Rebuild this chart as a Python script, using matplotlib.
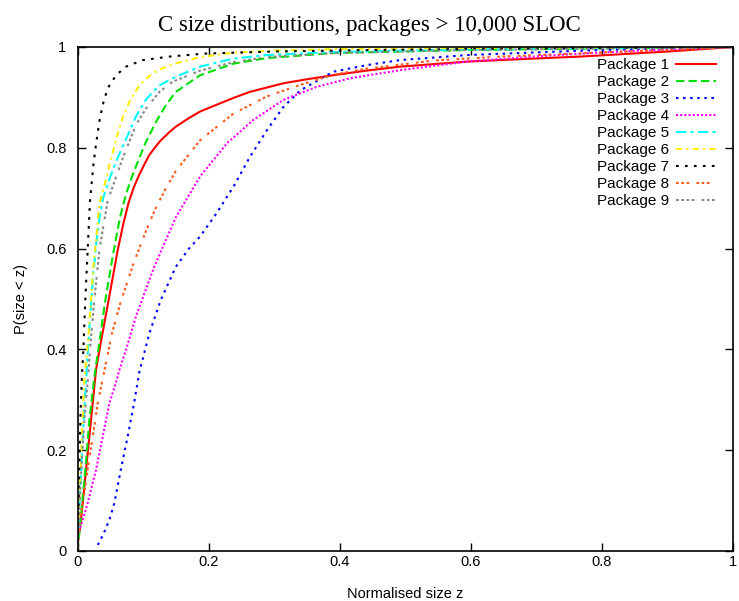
import matplotlib
matplotlib.use("Agg")
import matplotlib.pyplot as plt

# Values (normalised size z, P(size < z))
p1_x = [0, 0.0053, 0.013, 0.0206, 0.0282, 0.0343, 0.0475, 0.0613, 0.07, 0.0781, 0.086, 0.094,
        0.102, 0.1096, 0.125, 0.14, 0.150, 0.17, 0.187, 0.217, 0.24, 0.263, 0.29, 0.314, 0.35,
        0.390, 0.44, 0.492, 0.594, 0.695, 0.767, 0.9, 1.0]
p1_y = [0.01, 0.062, 0.161, 0.260, 0.359, 0.405, 0.498, 0.597, 0.65, 0.692, 0.722, 0.746,
        0.767, 0.786, 0.812, 0.831, 0.842, 0.859, 0.872, 0.888, 0.900, 0.911, 0.920, 0.928, 0.936,
        0.944, 0.953, 0.961, 0.971, 0.977, 0.981, 0.991, 1.0]

p2_x = [0, 0.0048, 0.0119, 0.0181, 0.0257, 0.0323, 0.0425, 0.0537, 0.0648, 0.074, 0.084, 0.094,
        0.1045, 0.120, 0.135, 0.150, 0.187, 0.238, 0.289, 0.390, 0.594, 0.797, 1.0]
p2_y = [0.0, 0.062, 0.161, 0.260, 0.346, 0.405, 0.498, 0.585, 0.662, 0.708, 0.746, 0.779,
        0.812, 0.852, 0.885, 0.911, 0.944, 0.967, 0.978, 0.988, 0.994, 0.997, 1.0]

p3_x = [0.031, 0.040, 0.0486, 0.0562, 0.066, 0.0765, 0.0862, 0.0943, 0.1096, 0.127, 0.150, 0.17,
        0.187, 0.212, 0.238, 0.263, 0.289, 0.314, 0.340, 0.390, 0.441, 0.492, 0.594, 0.695,
        0.797, 0.9, 1.0]
p3_y = [0.012, 0.035, 0.062, 0.095, 0.161, 0.227, 0.293, 0.355, 0.432, 0.498, 0.564, 0.600,
        0.624, 0.670, 0.723, 0.782, 0.835, 0.881, 0.914, 0.951, 0.964, 0.974, 0.984, 0.989,
        0.994, 0.997, 1.0]

p4_x = [0, 0.0079, 0.0155, 0.0282, 0.0384, 0.0486, 0.0598, 0.0638, 0.074, 0.089, 0.117, 0.1503,
        0.187, 0.228, 0.268, 0.314, 0.365, 0.416, 0.492, 0.594, 0.695, 0.797, 0.9, 1.0]
p4_y = [0.03, 0.062, 0.095, 0.161, 0.227, 0.293, 0.339, 0.359, 0.399, 0.465, 0.564, 0.663,
        0.743, 0.809, 0.855, 0.895, 0.921, 0.938, 0.954, 0.971, 0.981, 0.989, 0.995, 1.0]

p5_x = [0, 0.004, 0.009, 0.014, 0.019, 0.024, 0.029, 0.034, 0.039, 0.0486, 0.0587, 0.069, 0.079,
        0.089, 0.1045, 0.125, 0.150, 0.187, 0.238, 0.289, 0.390, 0.594, 0.797, 1.0]
p5_y = [0.0, 0.12, 0.25, 0.36, 0.46, 0.55, 0.615, 0.665, 0.70, 0.738, 0.772, 0.803, 0.832,
        0.862, 0.896, 0.924, 0.941, 0.961, 0.977, 0.984, 0.990, 0.995, 0.998, 1.0]

p6_x = [0, 0.003, 0.007, 0.0104, 0.013, 0.017, 0.0206, 0.0241, 0.0293, 0.0335, 0.041, 0.046,
        0.0536, 0.0613, 0.0689, 0.079, 0.0943, 0.1147, 0.140, 0.187, 0.238, 0.3, 0.4, 0.6, 0.8, 1.0]
p6_y = [0.0, 0.10, 0.24, 0.34, 0.375, 0.432, 0.498, 0.564, 0.630, 0.690, 0.725, 0.752,
        0.790, 0.828, 0.860, 0.891, 0.924, 0.948, 0.964, 0.980, 0.989, 0.993, 0.996, 0.998, 0.999, 1.0]

p7_x = [0, 0.0015, 0.003, 0.0045, 0.0065, 0.0089, 0.0119, 0.0155, 0.019, 0.0242, 0.028, 0.0333,
        0.0384, 0.046, 0.0587, 0.074, 0.0995, 0.140, 0.195, 0.3, 0.45, 0.6, 0.8, 1.0]
p7_y = [0.0, 0.08, 0.18, 0.27, 0.34, 0.399, 0.498, 0.597, 0.694, 0.766, 0.805, 0.852,
        0.885, 0.918, 0.944, 0.961, 0.974, 0.981, 0.987, 0.991, 0.994, 0.996, 0.998, 1.0]

p8_x = [0, 0.0079, 0.0155, 0.0232, 0.0308, 0.0405, 0.0526, 0.066, 0.0867, 0.1045, 0.1198, 0.135,
        0.150, 0.187, 0.238, 0.289, 0.340, 0.390, 0.441, 0.543, 0.645, 0.797, 0.9, 1.0]
p8_y = [0.03, 0.095, 0.161, 0.227, 0.293, 0.355, 0.432, 0.495, 0.575, 0.635, 0.682, 0.720,
        0.754, 0.815, 0.868, 0.902, 0.925, 0.945, 0.957, 0.973, 0.981, 0.989, 0.994, 1.0]

p9_x = [0, 0.003, 0.007, 0.011, 0.0165, 0.019, 0.0257, 0.0333, 0.046, 0.0587, 0.069, 0.079,
        0.089, 0.1045, 0.125, 0.145, 0.187, 0.238, 0.289, 0.39, 0.6, 0.8, 1.0]
p9_y = [0.0, 0.09, 0.19, 0.27, 0.35, 0.399, 0.498, 0.597, 0.695, 0.742, 0.779, 0.812,
        0.845, 0.878, 0.911, 0.931, 0.953, 0.970, 0.980, 0.988, 0.994, 0.997, 1.0]

labels = ["Package %d" % i for i in range(1, 10)]
tick_vals = [0, 0.2, 0.4, 0.6, 0.8, 1]
tick_labels = ["0", "0.2", "0.4", "0.6", "0.8", "1"]

series = [(p1_x, p1_y), (p2_x, p2_y), (p3_x, p3_y), (p4_x, p4_y), (p5_x, p5_y),
          (p6_x, p6_y), (p7_x, p7_y), (p8_x, p8_y), (p9_x, p9_y)]
colors = ["#ff0000", "#00e000", "#0000ff", "#ff00ff", "#00ffff",
          "#ffee00", "#000000", "#ff5a1e", "#888888"]
styles = ["-", (0, (4, 2)), (0, (1.2, 2.2)), (0, (1, 1)), (0, (5, 2, 1.5, 2)),
          (0, (3, 2, 1, 2)), (0, (1.3, 3)), (0, (1.3, 1.2, 1.3, 1.2, 1.3, 3.5)),
          (0, (1.3, 1.2, 1.3, 1.2, 1.3, 1.2, 1.3, 3.5))]

plt.rcParams['font.family'] = ['Liberation Sans', 'DejaVu Sans']

fig = plt.figure(figsize=(7.39, 6.01), dpi=100)
ax = fig.add_axes([0.1049, 0.0832, 0.8870, 0.8386])

for (xs, ys), c, ls, lab in zip(series, colors, styles, labels):
    ax.plot(xs, ys, color=c, linestyle=ls, linewidth=1.5, label=lab)

ax.set_xlim(0, 1)
ax.set_ylim(0, 1)
ax.set_xticks(tick_vals)
ax.set_xticklabels(tick_labels)
ax.set_yticks(tick_vals)
ax.set_yticklabels(tick_labels)
ax.tick_params(direction="in", length=6, width=1, top=True, right=True, labelsize=10.5)
ax.tick_params(axis="x", pad=3)
ax.tick_params(axis="y", pad=8)
for sp in ax.spines.values():
    sp.set_linewidth(1.2)

ax.set_xlabel("Normalised size z", fontsize=10.5, labelpad=13)
ax.set_ylabel("P(size < z)", fontsize=10.5, labelpad=13)
fig.text(0.5, 1 - 31 / 601, "C size distributions, packages > 10,000 SLOC",
         ha="center", va="baseline", fontsize=16.5, family="Liberation Serif")

ax.legend(loc="upper right", bbox_to_anchor=(716 / 739, 1 - 58 / 601),
          bbox_transform=fig.transFigure, frameon=False, markerfirst=False,
          fontsize=11, handlelength=2.6, handletextpad=0.5, labelspacing=0.2,
          borderpad=0, borderaxespad=0)

fig.savefig("out.png", dpi=100)
